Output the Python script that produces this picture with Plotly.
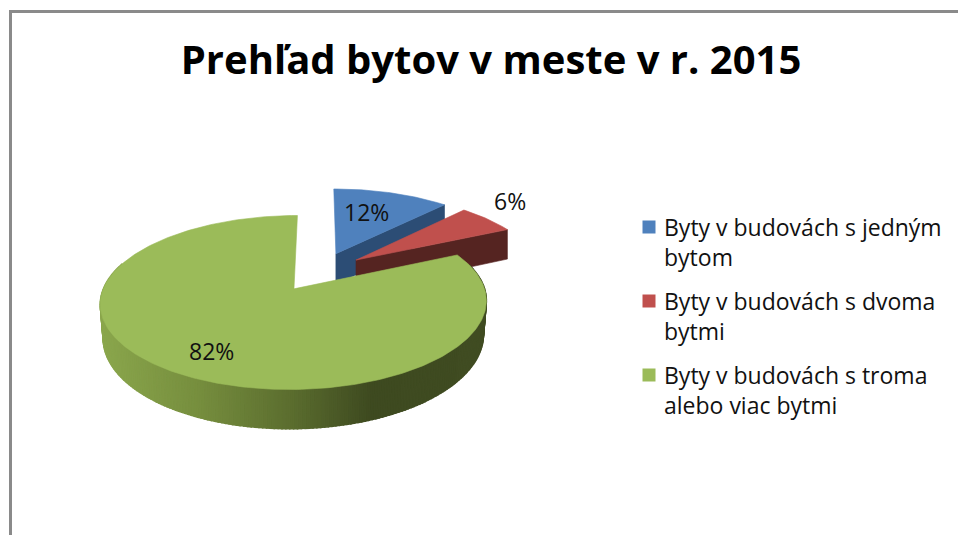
import math
import plotly.graph_objects as go

# --- data ---
title_text = "Prehľad bytov v meste v r. 2015"
categories = ["Byty v budovách s jedným bytom",
              "Byty v budovách s dvoma bytmi",
              "Byty v budovách s troma alebo viac bytmi"]
values = [12, 6, 82]
legend_lines = [["Byty v budovách s jedným", "bytom"],
                ["Byty v budovách s dvoma", "bytmi"],
                ["Byty v budovách s troma", "alebo viac bytmi"]]

# --- styles ---
top_colors = ["#4F81BD", "#C0504D", "#9BBB59"]
side_colors = ["#2C4D75", "#552421", None]
FONT = "Open Sans"
W, H_PX = 958, 535

# projection of the tilted pie plane onto the page
OX, OY = 319.5, 271.5
RX, RY = 184.5, 79.5
PERSP = 0.152
DEPTH = 32
EXPLODE = 0.25
WALL_TAPER = 0.985
label_pos = [(366, 212), (510, 201), (211, 351)]


def project(u, v):
    s = 1 / (1 + PERSP * v)
    return OX + RX * u * s, OY - RY * v * s, DEPTH * s


def lerp_color(stops, t):
    for (t0, c0), (t1, c1) in zip(stops, stops[1:]):
        if t <= t1:
            f = (t - t0) / (t1 - t0)
            c = [round(a + (b - a) * f) for a, b in zip(c0, c1)]
            return f"rgb({c[0]},{c[1]},{c[2]})"
    c = stops[-1][1]
    return f"rgb({c[0]},{c[1]},{c[2]})"


wall_stops = [(0.0, (138, 166, 76)), (0.25, (118, 142, 62)), (0.5, (90, 108, 46)),
              (0.7, (62, 74, 32)), (1.0, (64, 76, 34))]

fig = go.Figure()


def poly(xs, ys, color, name=None, width=0.6):
    fig.add_trace(go.Scatter(x=xs, y=ys, mode="lines", fill="toself", fillcolor=color,
                             line=dict(color=color, width=width),
                             hoverinfo="skip" if name is None else "text",
                             text=name, showlegend=False))


total = sum(values)
start = 0.0
for i, val in enumerate(values):
    sweep = 360 * val / total
    end = start + sweep
    mid = math.radians(start + sweep / 2)
    du, dv = EXPLODE * math.sin(mid), EXPLODE * math.cos(mid)
    n = max(int(sweep), 6)
    angles = [math.radians(start + sweep * k / n) for k in range(n + 1)]
    arc = [project(du + math.sin(a), dv + math.cos(a)) for a in angles]
    ax, ay, ad = project(du, dv)

    if side_colors[i]:
        # visible cut face: from the apex to the end of the arc
        ex, ey, ed = arc[-1]
        poly([ax, ex, ex, ax, ax], [ay, ey, ey + ed, ay + ad, ay], side_colors[i])
    else:
        # curved front wall, shaded from left to right; back of the rim is hidden
        cx = (min(p[0] for p in arc) + max(p[0] for p in arc)) / 2
        for k in range(len(arc) - 1):
            if math.cos((angles[k] + angles[k + 1]) / 2) > 0.3:
                continue
            x0, y0, d0 = arc[k]
            x1, y1, d1 = arc[k + 1]
            b0 = cx + (x0 - cx) * WALL_TAPER
            b1 = cx + (x1 - cx) * WALL_TAPER
            t = min(max(((x0 + x1) / 2 - 101) / 385, 0), 1)
            poly([x0, x1, b1, b0, x0], [y0, y1, y1 + d1, y0 + d0, y0],
                 lerp_color(wall_stops, t), width=1.5)

    xs = [ax] + [p[0] for p in arc] + [ax]
    ys = [ay] + [p[1] for p in arc] + [ay]
    poly(xs, ys, top_colors[i], categories[i])
    start = end

annotations = []
for val, (lx, ly) in zip(values, label_pos):
    annotations.append(dict(x=lx, y=ly, xref="x", yref="y", text=f"{val}%", showarrow=False,
                            font=dict(family=FONT, size=23, color="#111111")))

# legend
LEG_X = 649
LEG_Y0 = 227
LEG_STEP = 74
LINE_STEP = 30
for i, lines in enumerate(legend_lines):
    y0 = LEG_Y0 + i * LEG_STEP
    fig.add_trace(go.Scatter(x=[LEG_X], y=[y0], mode="markers", showlegend=False, hoverinfo="skip",
                             marker=dict(symbol="square", size=13, color=top_colors[i])))
    for j, line in enumerate(lines):
        annotations.append(dict(x=662, y=y0 + j * LINE_STEP, xref="x", yref="y", xanchor="left",
                                text=line, showarrow=False,
                                font=dict(family=FONT, size=23, color="#111111")))

border = dict(color="#8A8A8A", width=3)
shapes = [
    dict(type="line", xref="x", yref="y", x0=10.5, x1=10.5, y0=10, y1=535, line=border),
    dict(type="line", xref="x", yref="y", x0=9, x1=958, y0=11.5, y1=11.5, line=border),
]

fig.update_layout(
    width=W, height=H_PX, margin=dict(l=0, r=0, t=0, b=0),
    paper_bgcolor="white", plot_bgcolor="white", showlegend=False,
    title=dict(text=title_text, x=491 / W, xanchor="center", y=1 - 60 / H_PX, yanchor="middle",
               font=dict(family=FONT, size=40, color="#000000", weight="bold")),
    xaxis=dict(range=[0, W], visible=False, fixedrange=True),
    yaxis=dict(range=[H_PX, 0], visible=False, fixedrange=True),
    shapes=shapes, annotations=annotations,
)
fig.write_html("out.html", config={"displayModeBar": False},
               post_script="document.body.style.margin='0';document.body.style.overflow='hidden';")
